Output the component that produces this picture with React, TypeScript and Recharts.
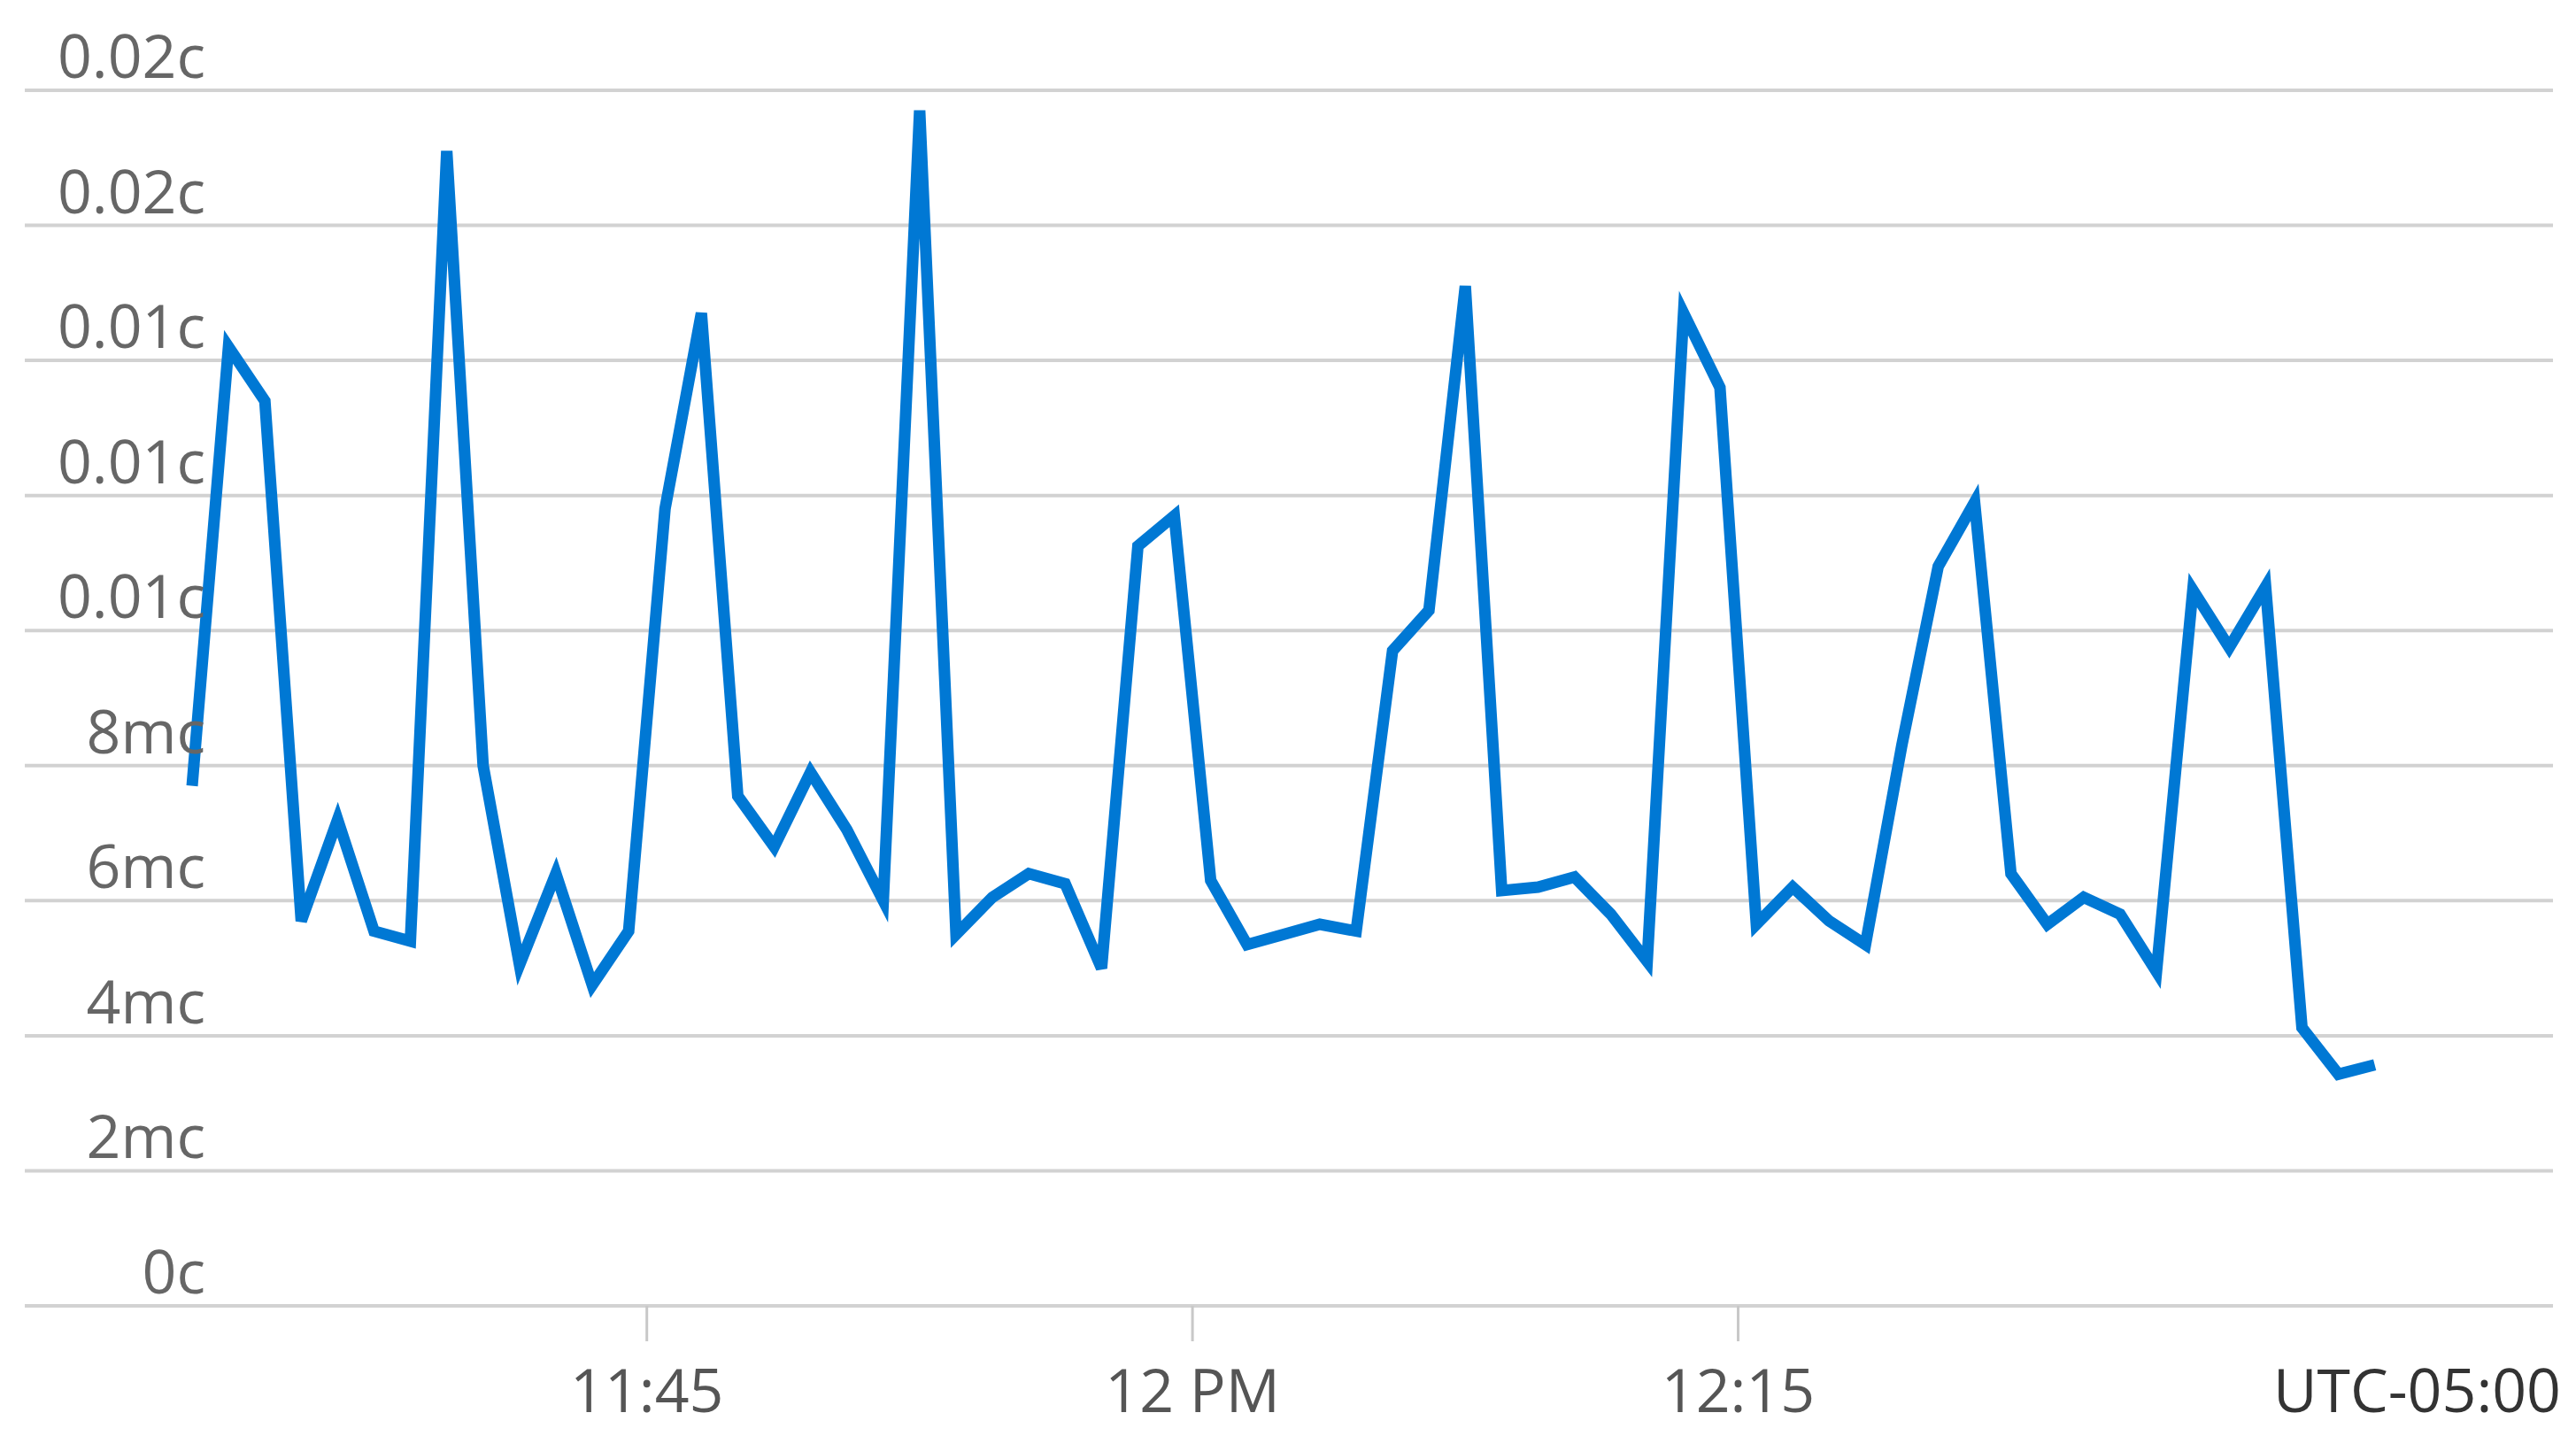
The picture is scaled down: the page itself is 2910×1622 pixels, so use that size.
import { LineChart, Line, XAxis, YAxis, CartesianGrid, Label } from 'recharts'

// minutes after 11:00 for each 1-minute sample
const minutesPast11 = [
  32.5, 33.5, 34.5, 35.5, 36.5, 37.5, 38.5, 39.5, 40.5, 41.5,
  42.5, 43.5, 44.5, 45.5, 46.5, 47.5, 48.5, 49.5, 50.5, 51.5,
  52.5, 53.5, 54.5, 55.5, 56.5, 57.5, 58.5, 59.5, 60.5, 61.5,
  62.5, 63.5, 64.5, 65.5, 66.5, 67.5, 68.5, 69.5, 70.5, 71.5,
  72.5, 73.5, 74.5, 75.5, 76.5, 77.5, 78.5, 79.5, 80.5, 81.5,
  82.5, 83.5, 84.5, 85.5, 86.5, 87.5, 88.5, 89.5, 90.5, 91.5,
  92.5,
]

// cost in millicents
const costMc = [
  7.7, 14.2, 13.4, 5.7, 7.2, 5.55, 5.4, 17.1, 8.0, 5.05,
  6.4, 4.75, 5.55, 11.8, 14.7, 7.55, 6.8, 7.9, 7.05, 6.0,
  17.7, 5.5, 6.05, 6.4, 6.25, 5.0, 11.25, 11.7, 6.3, 5.35,
  5.5, 5.65, 5.55, 9.7, 10.3, 15.1, 6.15, 6.2, 6.35, 5.8,
  5.1, 14.7, 13.6, 5.65, 6.2, 5.7, 5.35, 8.3, 10.95, 11.9,
  6.4, 5.65, 6.05, 5.8, 4.95, 10.6, 9.75, 10.65, 4.12, 3.43,
  3.57,
]

const yTicks = [0, 2, 4, 6, 8, 10, 12, 14, 16, 18]
const xTicks = [45, 60, 75]
const xTickLabels: Record<number, string> = { 45: '11:45', 60: '12 PM', 75: '12:15' }
const timezoneLabel = 'UTC-05:00'

const data = minutesPast11.map((t, i) => ({ t, cost: costMc[i] }))

const FONT = "'Segoe UI', 'Open Sans', sans-serif"

function formatCost(v: number) {
  if (v === 0) return '0c'
  if (v < 10) return `${v}mc`
  return `${(v / 1000).toFixed(2)}c`
}

function YTick({ y, payload }: any) {
  return (
    <text x={232} y={y - 14} textAnchor="end" fill="#666666" fontSize={68} fontFamily={FONT}>
      {formatCost(payload.value)}
    </text>
  )
}

function XTick({ x, y, payload }: any) {
  return (
    <text x={x} y={y + 80} textAnchor="middle" fill="#555555" fontSize={68} fontFamily={FONT}>
      {xTickLabels[payload.value]}
    </text>
  )
}

export default function App() {
  return (
    <div style={{ width: 2910, height: 1622, background: '#fff' }}>
      <style>{'body{margin:0}'}</style>
      <LineChart
        width={2910}
        height={1622}
        data={data}
        margin={{ top: 102, right: 26, bottom: 0, left: 27 }}
      >
        <CartesianGrid vertical={false} stroke="#d2d2d2" strokeWidth={4} />
        <YAxis
          width={1}
          domain={[0, 18]}
          ticks={yTicks}
          interval={0}
          axisLine={false}
          tickLine={false}
          tick={<YTick />}
        />
        <XAxis
          dataKey="t"
          type="number"
          domain={[27.9, 97.4]}
          ticks={xTicks}
          allowDataOverflow
          height={147}
          axisLine={false}
          tickSize={40}
          tickMargin={0}
          tickLine={{ stroke: '#c8c8c8', strokeWidth: 3 }}
          tick={<XTick />}
        >
          <Label
            content={({ viewBox }: any) => (
              <text
                x={viewBox.x + viewBox.width + 9}
                y={viewBox.y + 120}
                textAnchor="end"
                fill="#333333"
                fontSize={68}
                fontFamily={FONT}
              >
                {timezoneLabel}
              </text>
            )}
          />
        </XAxis>
        <Line
          type="linear"
          dataKey="cost"
          stroke="#0078d4"
          strokeWidth={13}
          dot={false}
          isAnimationActive={false}
        />
      </LineChart>
    </div>
  )
}
